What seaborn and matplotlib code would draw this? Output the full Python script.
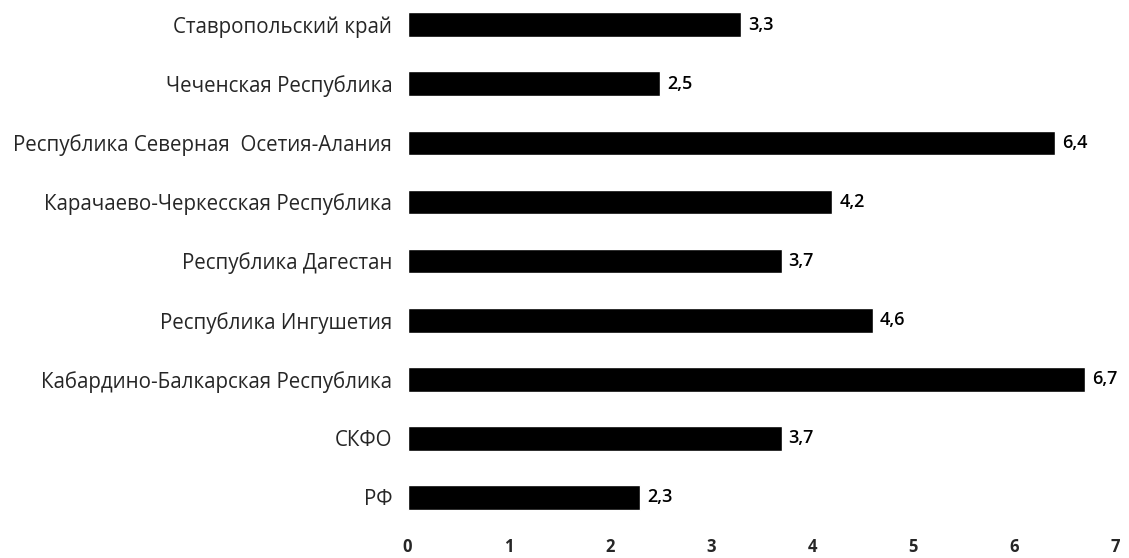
import matplotlib
matplotlib.use("Agg")
import matplotlib.pyplot as plt
import pandas as pd
import seaborn as sns

# regions, top to bottom as in the picture
regions = [
    "Ставропольский край",
    "Чеченская Республика",
    "Республика Северная  Осетия-Алания",
    "Карачаево-Черкесская Республика",
    "Республика Дагестан",
    "Республика Ингушетия",
    "Кабардино-Балкарская Республика",
    "СКФО",
    "РФ",
]
values = [3.3, 2.5, 6.4, 4.2, 3.7, 4.6, 6.7, 3.7, 2.3]
x_ticks = [0, 1, 2, 3, 4, 5, 6, 7]

df = pd.DataFrame({"region": regions, "value": values})

sns.set_theme(style="white")
plt.rcParams["font.family"] = ["Open Sans", "DejaVu Sans"]

fig = plt.figure(figsize=(11.29, 5.58), dpi=100)
ax = fig.add_axes([0.361, 0.059, 0.627, 0.941])

sns.barplot(data=df, y="region", x="value", orient="h", color="black",
            saturation=1, width=0.42, ax=ax)

# value labels with decimal comma
labels = [f"{v:.1f}".replace(".", ",") for v in values]
ax.bar_label(ax.containers[0], labels=labels, padding=5,
             fontsize=13, fontweight="semibold", color="black")

ax.set_xlim(0, 7)
ax.set_ylim(8.47, -0.42)
ax.set_xticks(x_ticks)
ax.set_xticklabels([str(t) for t in x_ticks], fontsize=12, fontweight="bold")
ax.tick_params(axis="x", pad=9, length=0)
ax.tick_params(axis="y", pad=11, length=0)
for lbl in ax.get_yticklabels():
    lbl.set_fontsize(14.8)
    lbl.set_fontweight("medium")
ax.set_xlabel("")
ax.set_ylabel("")
sns.despine(ax=ax, left=True, bottom=True)

fig.savefig("out.png", dpi=100)
